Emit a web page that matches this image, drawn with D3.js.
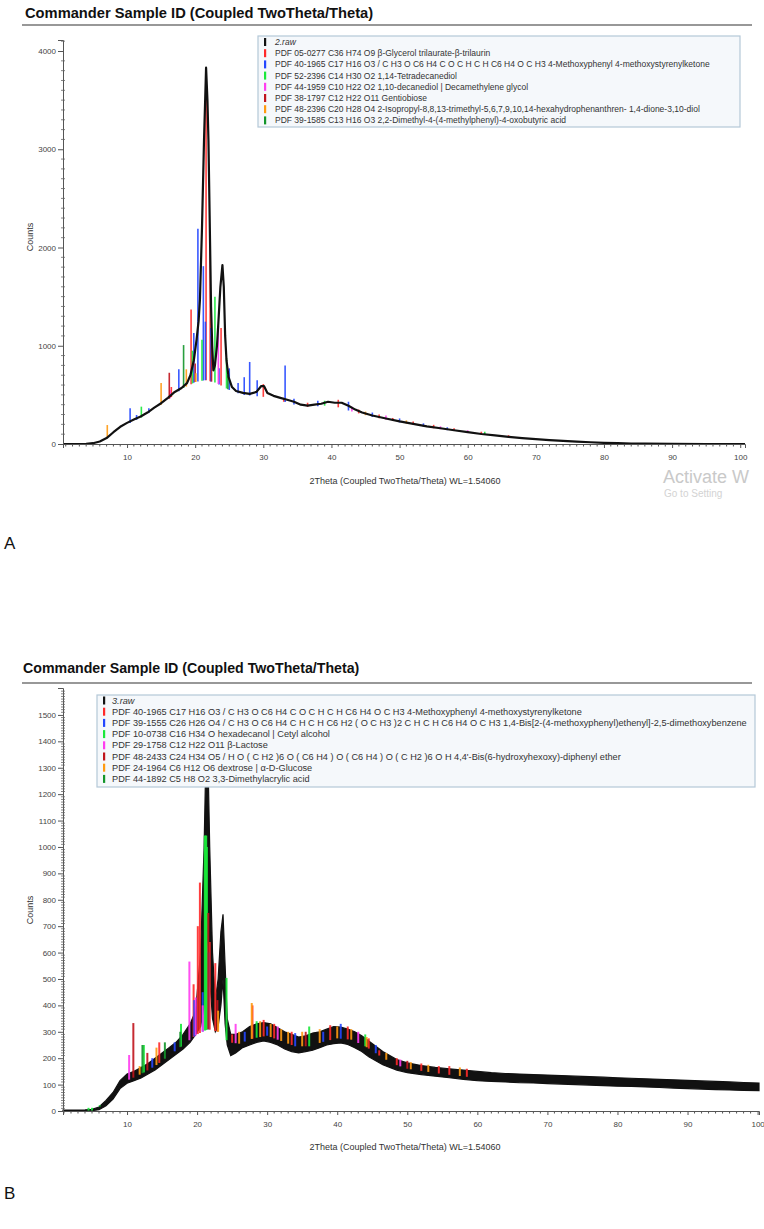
<!DOCTYPE html>
<html><head><meta charset="utf-8">
<script src="https://cdn.jsdelivr.net/npm/d3@7"></script>
<style>
body{margin:0;background:#fff}
svg{display:block}
text{font-family:"Liberation Sans",Arial,Helvetica,sans-serif}
</style>
</head><body>
<svg id="chart" width="764" height="1229"></svg>
<script>
// ---------------- DATA ----------------
const titleText = "Commander Sample ID (Coupled TwoTheta/Theta)";
const xAxisTitle = "2Theta (Coupled TwoTheta/Theta) WL=1.54060";
const yAxisTitle = "Counts";
const xTickLabels = [10, 20, 30, 40, 50, 60, 70, 80, 90, 100];
const yTickLabelsA = [0, 1000, 2000, 3000, 4000];
const yTickLabelsB = [0, 100, 200, 300, 400, 500, 600, 700, 800, 900, 1000, 1100, 1200, 1300, 1400, 1500];

const legendA = [
  "2.raw",
  "PDF 05-0277 C36 H74 O9 β-Glycerol trilaurate-β-trilaurin",
  "PDF 40-1965 C17 H16 O3 / C H3 O C6 H4 C O C H C H C6 H4 O C H3 4-Methoxyphenyl 4-methoxystyrenylketone",
  "PDF 52-2396 C14 H30 O2 1,14-Tetradecanediol",
  "PDF 44-1959 C10 H22 O2 1,10-decanediol | Decamethylene glycol",
  "PDF 38-1797 C12 H22 O11 Gentiobiose",
  "PDF 48-2396 C20 H28 O4 2-Isopropyl-8,8,13-trimethyl-5,6,7,9,10,14-hexahydrophenanthren- 1,4-dione-3,10-diol",
  "PDF 39-1585 C13 H16 O3 2,2-Dimethyl-4-(4-methylphenyl)-4-oxobutyric acid"
];
const legendB = [
  "3.raw",
  "PDF 40-1965 C17 H16 O3 / C H3 O C6 H4 C O C H C H C6 H4 O C H3 4-Methoxyphenyl 4-methoxystyrenylketone",
  "PDF 39-1555 C26 H26 O4 / C H3 O C6 H4 C H C H C6 H2 ( O C H3 )2 C H C H C6 H4 O C H3 1,4-Bis[2-(4-methoxyphenyl)ethenyl]-2,5-dimethoxybenzene",
  "PDF 10-0738 C16 H34 O hexadecanol | Cetyl alcohol",
  "PDF 29-1758 C12 H22 O11 β-Lactose",
  "PDF 48-2433 C24 H34 O5 / H O ( C H2 )6 O ( C6 H4 ) O ( C6 H4 ) O ( C H2 )6 O H 4,4'-Bis(6-hydroxyhexoxy)-diphenyl ether",
  "PDF 24-1964 C6 H12 O6 dextrose | α-D-Glucose",
  "PDF 44-1892 C5 H8 O2 3,3-Dimethylacrylic acid"
];
const seriesColors = ["#111111", "#ff2a2a", "#2447ff", "#19e83a", "#ff3cf0", "#c0141c", "#ff9a10", "#12952a"];

// Panel A raw pattern [2theta, counts]
const rawA = [
  [0.6,0],[3,0],[4,2],[5,8],[6,25],[7,60],[8,120],[9,175],[10,215],[11,250],[12,280],[13,320],[14,370],
  [15,415],[16,470],[17,530],[18,570],[18.8,620],[19.3,700],[19.8,850],[20.2,1060],[20.5,1250],[20.7,1470],
  [21.0,2200],[21.3,3100],[21.6,3830],[21.8,3500],[21.95,3090],[22.15,2200],[22.33,1400],[22.5,1000],[22.67,750],
  [22.9,800],[23.2,1000],[23.4,1230],[23.7,1600],[24.0,1820],[24.2,1600],[24.4,1100],[24.6,850],[24.9,680],
  [25.4,580],[26,540],[27,520],[28,510],[29,530],[29.7,590],[30.1,590],[30.6,520],[31.5,490],[32.5,470],
  [33.5,450],[34.5,430],[35.5,400],[36.5,390],[37.5,400],[38.5,410],[39.5,430],[40.5,420],[41.5,420],
  [42.5,390],[43.5,350],[44.5,320],[46,290],[48,260],[50,230],[52,205],[54,180],[56,160],[58,140],[60,120],
  [62,102],[64,88],[66,73],[68,60],[70,50],[72,40],[74,32],[76,25],[78,18],[80,12],[82,8],[84,5],[86,3],
  [90,1],[95,0],[100.7,0]
];
// Panel A amorphous background (stick base) [2theta, counts]
const bgA = [
  [0.6,0],[5,5],[7,55],[8,115],[10,200],[12,265],[14,350],[16,450],[18,560],[20,630],[21.5,650],[23,625],
  [25,550],[27,500],[30,480],[33,430],[36,375],[40,395],[43,330],[46,275],[50,220],[55,160],[60,112],
  [65,72],[70,44],[75,24],[80,10],[85,3],[100.7,0]
];
// Panel A reference sticks [2theta, top counts], one array per phase
const sticksA1 = [[21.6,3800],[22.2,2150],[19.4,1370],[23.8,1180],[16.5,580],[30.0,610],[33.0,470],[36.5,420],[41.0,450],[44.0,350],[47.0,300],[49.0,265],[52.0,230],[55.0,195],[58.0,160],[62.0,125],[66.0,90]];
const sticksA2 = [[10.45,365],[11.4,295],[13.2,365],[17.6,760],[19.8,1130],[20.4,2190],[21.2,1810],[21.5,1245],[22.3,1180],[23.5,770],[25.0,770],[26.3,620],[27.2,680],[28.0,835],[29.1,650],[33.2,800],[34.5,460],[38.0,440],[42.5,430],[46.0,320],[50.0,260],[53.5,210],[57.0,170]];
const sticksA3 = [[12.1,380],[19.6,950],[21.0,1060],[22.9,1500],[24.6,875],[39.0,440],[62.5,125]];
const sticksA4 = [[16.3,550],[23.4,1200],[43.0,380],[48.0,290],[56.0,180],[60.0,140]];
const sticksA5 = [[16.2,725],[22.4,1100],[20.0,820]];
const sticksA6 = [[7.1,193],[15.0,620],[18.7,760],[20.1,720],[45.0,330],[51.0,240]];
const sticksA7 = [[18.3,1007],[24.8,700]];

// Panel B raw pattern as noise envelope [2theta, low, high]
const rawB = [
  [0.86,0,3],[3,0,3],[4,0,4],[5,1,6],[6,5,15],[7,20,40],[8,45,70],[9,85,115],[10,105,140],[11,115,150],
  [12,125,165],[13,140,180],[14,155,200],[15,175,220],[16,195,240],[17,215,260],[18,235,290],[19,260,330],
  [19.8,290,380],[20.5,320,600],[21,400,1000],[21.3,600,1400],[21.5,700,1400],[21.8,500,1000],[22.2,350,600],
  [22.6,300,420],[23.0,320,500],[23.4,400,680],[23.7,500,745],[24.0,330,550],[24.3,250,350],[24.8,210,290],
  [25.5,220,290],[26.5,240,300],[27.5,250,320],[28.5,260,330],[29.5,265,335],[30.5,260,330],[31.5,250,315],
  [32.5,235,300],[33.5,225,290],[34.5,220,280],[35.5,225,285],[36.5,230,295],[37.5,240,300],[38.5,250,310],
  [39.5,255,320],[40.5,258,318],[41.5,252,310],[42.5,240,300],[43.5,225,285],[44.5,205,265],[45.5,190,245],
  [46.5,175,225],[47.5,165,210],[48.5,155,195],[50,145,182],[52,138,172],[54,132,165],[56,126,160],
  [58,120,155],[60,115,150],[62,112,145],[64,110,142],[66,107,140],[68,106,138],[70,104,136],[72,102,134],
  [74,100,132],[76,98,130],[78,96,128],[80,94,126],[82,93,124],[84,91,122],[86,89,120],[88,87,118],
  [90,85,116],[92,83,114],[94,81,112],[96,80,110],[98,78,108],[100.2,77,106]
];
// Panel B background (stick base) [2theta, counts]
const bgB = [
  [0.86,0],[5,2],[7,30],[9,95],[10,115],[12,140],[14,170],[16,210],[18,250],[20,290],[21.5,310],[23,300],
  [24.5,260],[26,255],[28,275],[30,285],[32,265],[34,245],[36,245],[38,262],[40,275],[42,270],[44,245],
  [46,210],[48,178],[50,160],[55,140],[60,125],[70,115],[80,105],[90,95],[100.2,85]
];
const sticksB1 = [[20.4,865],[20.1,700],[21.8,640],[19.5,480],[22.6,560],[27.9,400],[14.6,260],[31.0,330],[46.0,230],[52.0,180],[56.0,170],
  [25.0,290],[29.5,345],[33.5,300],[39.0,325],[41.5,320],[44.5,275],[48.5,200],[54.5,170],[58.5,160]];
const sticksB2 = [[20.8,450],[19.6,420],[21.6,600],[16.8,260],[13.6,200],[30.0,320],[38.0,300],[26.8,300],[34.0,295],[40.5,330],[45.5,250]];
const sticksB3 = [[21.1,1043],[21.2,1043],[21.3,1043],[21.4,1000],[24.2,504],[12.4,250],[17.7,330],[4.5,12],[5.0,12],[6.1,22],[36.0,320],[28.5,340],[44.0,290]];
const sticksB4 = [[18.9,566],[10.3,212],[19.8,430],[20.8,400],[25.5,330],[31.5,320],[43.0,300],[49.0,195]];
const sticksB5 = [[10.9,333],[21.6,750],[12.9,220],[22.9,420],[35.5,300],[50.0,190]];
const sticksB6 = [[27.8,409],[11.8,170],[14.2,240],[23.0,380],[33.0,300],[44.2,280],[26.0,300],[29.0,340],[30.5,330],[32.0,310],[35.0,300],[37.5,310],[40.0,320],[42.0,310],[47.0,220],[50.5,185],[53.0,175],[57.5,165]];
const sticksB7 = [[12.2,250],[17.6,300],[15.4,260]];

// ---------------- DRAWING ----------------
const svg = d3.select("#chart");
svg.append("rect").attr("width",764).attr("height",1229).attr("fill","#fff");

function drawPanel(p) {
  const g = svg.append("g");
  g.append("text").attr("x",p.titleX).attr("y",p.titleY).attr("font-size",p.titleFs).attr("font-weight","bold")
    .attr("fill","#111").text(titleText);
  g.append("line").attr("x1",22).attr("x2",752).attr("y1",p.ruleY).attr("y2",p.ruleY)
    .attr("stroke","#333").attr("stroke-width",1.2);

  const x = d3.scaleLinear().domain(p.xDomain).range(p.xRange);
  const y = d3.scaleLinear().domain(p.yDomain).range(p.yRange);
  const base = d3.scaleLinear().domain(p.bg.map(d=>d[0])).range(p.bg.map(d=>d[1]));

  const plot = g.append("g");
  const drawSticks = () => p.sticks.forEach((arr, i) => {
    plot.append("g").selectAll("line").data(arr).join("line")
      .attr("x1", d=>x(d[0])).attr("x2", d=>x(d[0]))
      .attr("y1", d=>y(Math.min(base(d[0]), d[1]))).attr("y2", d=>y(d[1]))
      .attr("stroke", seriesColors[i+1]).attr("stroke-width", p.stickW).attr("opacity",0.9);
  });
  if (p.rawBand) {
    plot.append("path").datum(p.raw)
      .attr("d", d3.area().x(d=>x(d[0])).y0(d=>y(d[1])).y1(d=>y(d[2])))
      .attr("fill","#111").attr("stroke","#111").attr("stroke-width",1.2);
    drawSticks();
  } else {
    drawSticks();
    plot.append("path").datum(p.raw)
      .attr("d", d3.line().x(d=>x(d[0])).y(d=>y(d[1])))
      .attr("fill","none").attr("stroke","#111").attr("stroke-width",2.2).attr("stroke-linejoin","round");
  }

  const ax = g.append("g").attr("transform",`translate(0,${p.yRange[0]})`)
    .call(d3.axisBottom(x).tickValues(xTickLabels).tickSize(4).tickPadding(6).tickFormat(d3.format("d")));
  ax.select(".domain").attr("stroke","#555");
  ax.selectAll(".tick line").attr("stroke","#555");
  ax.selectAll("text").attr("font-size",8).attr("fill","#444").attr("font-family","Liberation Sans, Arial");
  const xMinor = d3.range(Math.ceil(p.xDomain[0]), Math.floor(p.xDomain[1])+1).filter(v=>v%10!==0);
  g.append("g").selectAll("line").data(xMinor).join("line")
    .attr("x1",d=>x(d)).attr("x2",d=>x(d)).attr("y1",p.yRange[0]).attr("y2",p.yRange[0]+2.5)
    .attr("stroke","#555").attr("stroke-width",1);

  const ay = g.append("g").attr("transform",`translate(${p.xRange[0]},0)`)
    .call(d3.axisLeft(y).tickValues(p.yTicks).tickSize(5).tickPadding(2).tickFormat(d3.format("d")));
  ay.select(".domain").attr("stroke","#555");
  ay.selectAll(".tick line").attr("stroke","#555");
  ay.selectAll("text").attr("font-size",8).attr("fill","#444").attr("font-family","Liberation Sans, Arial");
  const yMinor = d3.range(0, p.yDomain[1], p.yMinorStep).filter(v=>v % p.yMajorStep !== 0);
  g.append("g").selectAll("line").data(yMinor).join("line")
    .attr("x1",p.xRange[0]-2).attr("x2",p.xRange[0]+2).attr("y1",d=>y(d)).attr("y2",d=>y(d))
    .attr("stroke","#666").attr("stroke-width",0.8);

  g.append("text").attr("x",405).attr("y",p.xTitleY).attr("text-anchor","middle")
    .attr("font-size",9).attr("fill","#333").text(xAxisTitle);
  g.append("text").attr("transform",`translate(33,${p.yTitleY}) rotate(-90)`).attr("text-anchor","middle")
    .attr("font-size",9).attr("fill","#333").text(yAxisTitle);

  const L = p.legend;
  g.append("rect").attr("x",L.x).attr("y",L.y).attr("width",L.w).attr("height",L.h)
    .attr("fill","#f5f8fb").attr("stroke","#b4c8d8").attr("stroke-width",1.2);
  const rows = g.append("g").selectAll("g").data(p.legendLabels).join("g")
    .attr("transform",(d,i)=>`translate(${L.x},${L.y + L.first + i*L.step})`);
  rows.append("rect").attr("x",L.mx).attr("y",-4).attr("width",2.2).attr("height",8)
    .attr("fill",(d,i)=>seriesColors[i]);
  rows.append("text").attr("x",L.tx).attr("y",3).attr("font-size",L.fs).attr("fill","#333")
    .attr("font-style",(d,i)=>i===0?"italic":"normal").text(d=>d);
}

drawPanel({
  titleX:25, titleY:18, titleFs:14.7, ruleY:25,
  xDomain:[0.6,100.7], xRange:[63,745],
  yDomain:[0,4112], yRange:[444,40],
  yTicks:yTickLabelsA, yMinorStep:100, yMajorStep:1000,
  raw:rawA, rawBand:false, bg:bgA,
  sticks:[sticksA1,sticksA2,sticksA3,sticksA4,sticksA5,sticksA6,sticksA7], stickW:1.6,
  xTitleY:484, yTitleY:237,
  legend:{x:258,y:36,w:482,h:91,first:6,step:11.2,mx:6,tx:17,fs:8.5},
  legendLabels:legendA
});
drawPanel({
  titleX:23, titleY:673, titleFs:14.2, ruleY:683,
  xDomain:[0.86,100.2], xRange:[63,759],
  yDomain:[0,1602], yRange:[1111,688],
  yTicks:yTickLabelsB, yMinorStep:10, yMajorStep:100,
  raw:rawB, rawBand:true, bg:bgB,
  sticks:[sticksB1,sticksB2,sticksB3,sticksB4,sticksB5,sticksB6,sticksB7], stickW:2,
  xTitleY:1150, yTitleY:910,
  legend:{x:97,y:695,w:658,h:92,first:5.5,step:11.2,mx:6,tx:15,fs:9.2},
  legendLabels:legendB
});

svg.append("text").attr("x",4).attr("y",549).attr("font-family","Liberation Serif, Times New Roman, serif")
  .attr("font-size",17).attr("fill","#111").text("A");
svg.append("text").attr("x",4).attr("y",1199).attr("font-family","Liberation Serif, Times New Roman, serif")
  .attr("font-size",17).attr("fill","#111").text("B");

// screenshot watermark (visible part)
svg.append("text").attr("x",663).attr("y",483).attr("font-family","Liberation Sans, Arial, sans-serif")
  .attr("font-size",18).attr("fill","#c9c9c9").text("Activate W");
svg.append("text").attr("x",664).attr("y",497).attr("font-family","Liberation Sans, Arial, sans-serif")
  .attr("font-size",10).attr("fill","#d3d3d3").text("Go to Setting");
</script>
</body></html>
